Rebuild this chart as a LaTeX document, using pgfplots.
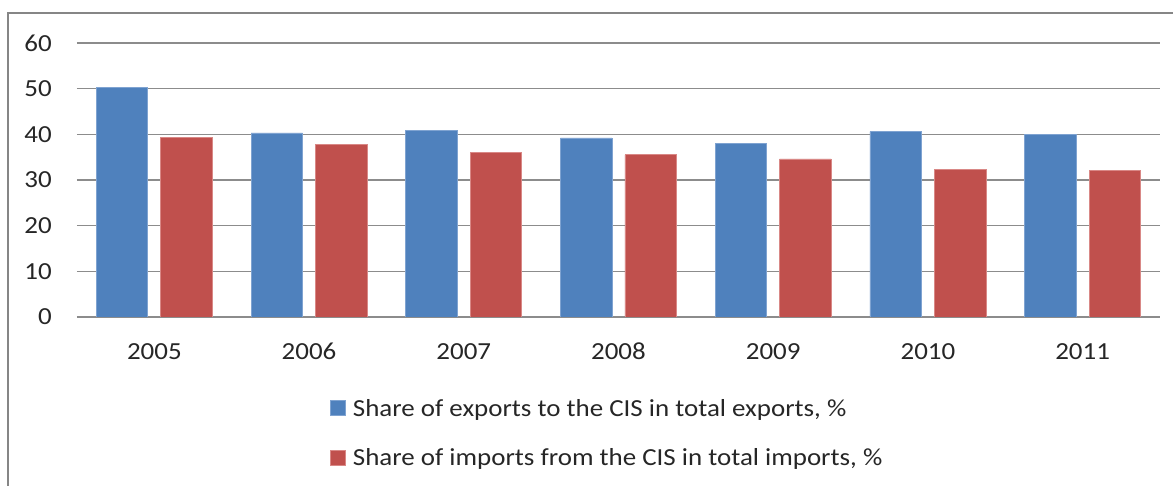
\documentclass[border=0pt]{standalone}
\usepackage{pgfplots}
\pgfplotsset{compat=1.18}
\usepackage{fontspec}
\setmainfont{Carlito}[FakeStretch=1.1]
\definecolor{cblue}{HTML}{4F81BD}
\definecolor{cred}{HTML}{C0504D}
\definecolor{cblueE}{HTML}{7FA3D1}
\definecolor{credE}{HTML}{D98886}
\definecolor{gridc}{HTML}{8C8C8C}
\begin{document}
\begin{tikzpicture}[x=1pt,y=1pt]
\useasboundingbox (0,0) rectangle (1173,486);
\draw[draw=gray!95, line width=2pt] (8,-20) -- (8,473) -- (1190,473);
\begin{axis}[
  at={(77pt,169pt)}, anchor=south west,
  scale only axis, width=1083pt, height=274pt,
  xmin=-0.5, xmax=6.5, ymin=0, ymax=60,
  ytick={0,10,...,60},
  xtick={0,...,6}, xticklabels={2005,2006,2007,2008,2009,2010,2011},
  major tick length=0pt,
  axis line style={draw=none},
  ymajorgrids, grid style={draw=gridc, line width=1.5pt},
  ybar=13pt, bar width=51.5pt,
  /pgf/number format/assume math mode=true,
  tick label style={font=\fontsize{24.5}{29}\selectfont, text=black!85},
  yticklabel style={anchor=east, inner sep=0pt, xshift=-25pt},
  xticklabel style={anchor=north, inner sep=0pt, text height=15.5pt, text depth=0pt, yshift=-27pt},
  legend style={at={(0.2336,-0.3011)}, anchor=north west, draw=none, fill=none,
    font=\fontsize{24.5}{29}\selectfont, text=black!85, row sep=33.5pt, inner sep=0pt,
    nodes={inner sep=0pt, text height=15.5pt, text depth=0pt},
    /tikz/every odd column/.append style={column sep=7pt}},
  legend cell align=left,
  legend image code/.code={\path[#1] (0pt,-6.8pt) rectangle (15pt,8.2pt);},
]
\addplot[fill=cblue, draw=cblueE, line width=0.8pt] coordinates {(0,50.3) (1,40.3) (2,40.9) (3,39.2) (4,38.0) (5,40.6) (6,39.9)};
\addlegendentry{Share of exports to the CIS in total exports, \%}
\addplot[fill=cred, draw=credE, line width=0.8pt] coordinates {(0,39.4) (1,37.7) (2,36.0) (3,35.5) (4,34.6) (5,32.4) (6,32.1)};
\addlegendentry{Share of imports from the CIS in total imports, \%}
\end{axis}
\end{tikzpicture}
\end{document}
